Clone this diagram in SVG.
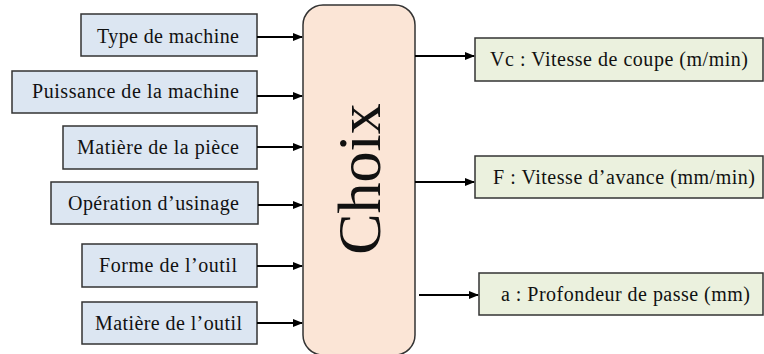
<svg xmlns="http://www.w3.org/2000/svg" width="764" height="354" viewBox="0 0 764 354" font-family="Liberation Serif, Times New Roman, serif">
<defs>
<marker id="ah" markerWidth="10" markerHeight="8" refX="9" refY="4" orient="auto" markerUnits="userSpaceOnUse">
<path d="M0,0 L10,4 L0,8 Z" fill="#000"/>
</marker>
<style>
.in{fill:#dce6f2;stroke:#333;stroke-width:1.5}
.out{fill:#ebf1de;stroke:#333;stroke-width:1.5}
.t{font-family:'Liberation Serif','Times New Roman',serif;font-size:20px;fill:#111}
.c{stroke:#000;stroke-width:2;fill:none;marker-end:url(#ah)}
</style>
</defs>
<rect width="764" height="354" fill="#fff"/>
<g id="n-type"><rect class="in" x="81" y="14" width="176" height="42"/><text class="t" x="97" y="43" textLength="142" lengthAdjust="spacing">Type de machine</text></g>
<g id="n-puissance"><rect class="in" x="12" y="71" width="245" height="42"/><text class="t" x="32" y="98" textLength="207" lengthAdjust="spacing">Puissance de la machine</text></g>
<g id="n-matpiece"><rect class="in" x="63" y="126" width="194" height="43"/><text class="t" x="77" y="154" textLength="162" lengthAdjust="spacing">Matière de la pièce</text></g>
<g id="n-operation"><rect class="in" x="51" y="182" width="207" height="42"/><text class="t" x="68" y="210" textLength="171" lengthAdjust="spacing">Opération d’usinage</text></g>
<g id="n-forme"><rect class="in" x="82" y="244" width="175" height="43"/><text class="t" x="99" y="272" textLength="138" lengthAdjust="spacing">Forme de l’outil</text></g>
<g id="n-matoutil"><rect class="in" x="82" y="302" width="175" height="42"/><text class="t" x="95" y="330" textLength="147" lengthAdjust="spacing">Matière de l’outil</text></g>
<g id="n-choix"><rect x="303" y="5" width="112" height="350" rx="20" ry="20" fill="#fbe5d6" stroke="#333" stroke-width="1.5"/><text x="0" y="0" transform="translate(380,179) rotate(-90)" font-family="Liberation Serif, Times New Roman, serif" font-size="62" fill="#111" text-anchor="middle">Choix</text></g>
<g id="n-vc"><rect class="out" x="475" y="38" width="288" height="43"/><text class="t" x="490" y="66" textLength="258" lengthAdjust="spacing">Vc : Vitesse de coupe (m/min)</text></g>
<g id="n-f"><rect class="out" x="475" y="156" width="288" height="42"/><text class="t" x="493" y="184" textLength="262" lengthAdjust="spacing">F : Vitesse d’avance (mm/min)</text></g>
<g id="n-a"><rect class="out" x="479" y="273" width="284" height="42"/><text class="t" x="501" y="301" textLength="249" lengthAdjust="spacing">a : Profondeur de passe (mm)</text></g>
<g id="connectors">
<line class="c" x1="257" y1="37" x2="302" y2="37"/>
<line class="c" x1="257" y1="96" x2="302" y2="96"/>
<line class="c" x1="257" y1="147" x2="302" y2="147"/>
<line class="c" x1="258" y1="205" x2="302" y2="205"/>
<line class="c" x1="257" y1="266" x2="302" y2="266"/>
<line class="c" x1="257" y1="323" x2="302" y2="323"/>
<line class="c" x1="415" y1="56" x2="474" y2="56"/>
<line class="c" x1="415" y1="182" x2="474" y2="182"/>
<line class="c" x1="419" y1="295" x2="478" y2="295"/>
</g>
</svg>
